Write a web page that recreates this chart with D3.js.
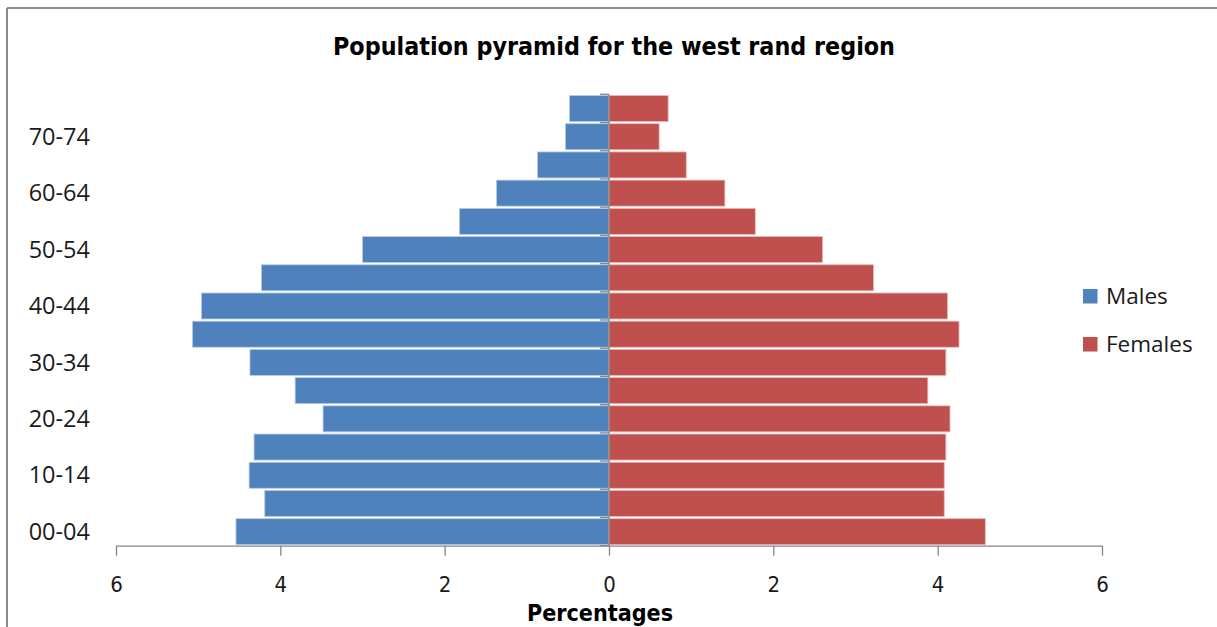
<!DOCTYPE html>
<html>
<head>
<meta charset="utf-8">
<script src="https://cdn.jsdelivr.net/npm/d3@7"></script>
<style>
  html, body { margin: 0; padding: 0; background: #fff; }
  svg { display: block; }
</style>
</head>
<body>
<svg id="chart" width="1217" height="627"></svg>
<script>
// Age groups, youngest first
const ageGroups = ["00-04","05-09","10-14","15-19","20-24","25-29","30-34","35-39",
                   "40-44","45-49","50-54","55-59","60-64","65-69","70-74","75+"];
// Share of total population (%)
const males   = [4.54, 4.19, 4.38, 4.32, 3.48, 3.82, 4.37, 5.07, 4.96, 4.23, 3.00, 1.82, 1.37, 0.87, 0.53, 0.48];
const females = [4.58, 4.08, 4.08, 4.10, 4.15, 3.88, 4.10, 4.26, 4.12, 3.22, 2.60, 1.78, 1.41, 0.94, 0.61, 0.72];
// Only every other group is labelled on the vertical axis
const ageLabels = ["00-04","10-14","20-24","30-34","40-44","50-54","60-64","70-74"];
const xTicks = [-6, -4, -2, 0, 2, 4, 6];
const seriesNames = ["Males", "Females"];
const seriesColors = ["#4F81BD", "#C0504D"];

const svg = d3.select("#chart");
const axisColor = "#868686";
const condensed = "'DejaVu Sans Condensed', 'DejaVu Sans', sans-serif";

// Frame around the chart area
svg.append("line").attr("x1", 7).attr("x2", 1217).attr("y1", 8).attr("y2", 8)
  .attr("stroke", "#8c8c8c").attr("stroke-width", 2);
svg.append("line").attr("x1", 7).attr("x2", 7).attr("y1", 8).attr("y2", 627)
  .attr("stroke", "#8c8c8c").attr("stroke-width", 2);

const x = d3.scaleLinear().domain([-6, 6]).range([116, 1102]);
const y = d3.scaleBand().domain(ageGroups.slice().reverse()).range([94.3, 545.7]).paddingInner(0).paddingOuter(0);
const bh = y.bandwidth();

// Bars
const rows = ageGroups.map((g, i) => ({ g, m: males[i], f: females[i] }));
const barG = svg.append("g");
barG.selectAll("rect.m").data(rows).join("rect").attr("class", "m")
  .attr("x", d => x(-d.m)).attr("width", d => x(0) - x(-d.m))
  .attr("y", d => y(d.g) + 1.2).attr("height", bh - 2.2)
  .attr("fill", seriesColors[0]).attr("stroke", "#b9cde5").attr("stroke-width", 0.8);
barG.selectAll("rect.f").data(rows).join("rect").attr("class", "f")
  .attr("x", x(0)).attr("width", d => x(d.f) - x(0))
  .attr("y", d => y(d.g) + 1.2).attr("height", bh - 2.2)
  .attr("fill", seriesColors[1]).attr("stroke", "#e6b9b8").attr("stroke-width", 0.8);

// Vertical axis at zero with ticks on band boundaries
const yAxisG = svg.append("g");
yAxisG.append("line").attr("x1", x(0)).attr("x2", x(0))
  .attr("y1", y.range()[0]).attr("y2", y.range()[1]).attr("stroke", axisColor).attr("stroke-width", 1.3);
const boundaries = ageGroups.map(g => y(g)).concat([y.range()[1]]);
yAxisG.selectAll("line.t").data(boundaries).join("line").attr("class", "t")
  .attr("x1", x(0) - 9).attr("x2", x(0)).attr("y1", d => d).attr("y2", d => d)
  .attr("stroke", axisColor).attr("stroke-width", 1.3);

// Age labels
svg.append("g").selectAll("text").data(ageLabels).join("text")
  .attr("x", 90).attr("y", d => y(d) + bh / 2)
  .attr("dy", "0.35em").attr("text-anchor", "end")
  .attr("font-family", "'Open Sans', sans-serif").attr("font-size", 23.5)
  .attr("fill", "#1a1a1a").text(d => d);

// Horizontal axis
const xAxis = d3.axisBottom(x).tickValues(xTicks).tickSize(10).tickSizeOuter(0)
  .tickFormat(d => Math.abs(d));
const xg = svg.append("g").attr("transform", `translate(0,${y.range()[1]})`).call(xAxis);
xg.select(".domain").attr("stroke", axisColor).attr("stroke-width", 1.3);
xg.selectAll(".tick line").attr("stroke", axisColor).attr("stroke-width", 1.3);
xg.selectAll(".tick text").attr("y", 39).attr("dy", "0.35em")
  .attr("font-family", condensed).attr("font-stretch", "condensed")
  .attr("font-size", 22).attr("fill", "#1a1a1a");

// Axis title
svg.append("text").attr("x", 600).attr("y", 621).attr("text-anchor", "middle")
  .attr("font-family", condensed).attr("font-stretch", "condensed").attr("font-weight", "bold")
  .attr("font-size", 23).attr("textLength", 146).attr("lengthAdjust", "spacingAndGlyphs")
  .attr("fill", "#000").text("Percentages");

// Chart title
svg.append("text").attr("x", 614).attr("y", 55).attr("text-anchor", "middle")
  .attr("font-family", condensed).attr("font-stretch", "condensed").attr("font-weight", "bold")
  .attr("font-size", 24.5).attr("textLength", 562).attr("lengthAdjust", "spacingAndGlyphs")
  .attr("fill", "#000").text("Population pyramid for the west rand region");

// Legend
const legend = svg.append("g").selectAll("g").data(seriesNames).join("g")
  .attr("transform", (d, i) => `translate(1083,${289 + i * 48})`);
legend.append("rect").attr("width", 14.5).attr("height", 14.5)
  .attr("fill", (d, i) => seriesColors[i]);
legend.append("text").attr("x", 23).attr("y", 7.5).attr("dy", "0.35em")
  .attr("font-family", "'Open Sans', sans-serif").attr("font-size", 22.5)
  .attr("fill", "#1a1a1a").text(d => d);
</script>
</body>
</html>
